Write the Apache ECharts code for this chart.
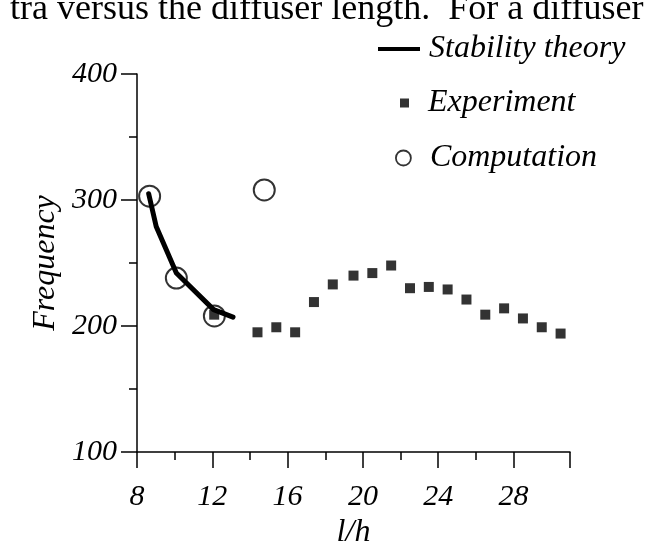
<!DOCTYPE html>
<html>
<head>
<meta charset="utf-8">
<script src="https://cdn.jsdelivr.net/npm/echarts@6/dist/echarts.min.js"></script>
<style>html,body{margin:0;padding:0;background:#fff;}#c{width:645px;height:550px;}</style>
</head>
<body>
<div id="c"></div>
<script>
const stabilityX = [8.62, 9.02, 10.09, 12.07, 13.1];
const stabilityY = [305, 279, 242, 213, 207];
const expX = [12.1, 14.4, 15.4, 16.4, 17.4, 18.4, 19.5, 20.5, 21.5, 22.5, 23.5, 24.5, 25.5, 26.5, 27.5, 28.5, 29.5, 30.5];
const expY = [209, 195, 199, 195, 219, 233, 240, 242, 248, 230, 231, 229, 221, 209, 214, 206, 199, 194];
const compX = [8.67, 10.09, 12.11, 14.76];
const compY = [303, 238, 208, 308];
const xMajorLabels = [8, 12, 16, 20, 24, 28];
const xMajorTicks = [8, 12, 16, 20, 24, 28, 31];
const xMinorTicks = [10, 14, 18, 22, 26];
const seriesNames = ['Stability theory', 'Experiment', 'Computation'];
const topText = 'tra versus the diffuser length.  For a diffuser';

const zip = (a, b) => a.map((v, i) => [v, b[i]]);
const FONT = 'Liberation Serif';
const lblStyle = {fontFamily: FONT, fontStyle: 'italic', fontSize: 30, color: '#000'};
const legText = {fontFamily: FONT, fontStyle: 'italic', fontSize: 32, color: '#000'};

const chart = echarts.init(document.getElementById('c'), null, {renderer: 'canvas'});
chart.setOption({
  animation: false,
  backgroundColor: '#fff',
  grid: {left: 137, top: 74, right: 75, bottom: 98, containLabel: false, outerBoundsMode: 'none'},
  graphic: [{
    type: 'text', x: 10, y: -8,
    style: {text: topText, font: '36px "Liberation Serif"', fill: '#000', verticalAlign: 'top'}
  }],
  legend: [
    {data: [{name: seriesNames[0], icon: 'rect'}], left: 378, top: 33, padding: 0, itemWidth: 42, itemHeight: 4, itemGap: 0,
     textStyle: Object.assign({padding: [0, 0, 0, 4]}, legText), selectedMode: false},
    {data: [{name: seriesNames[1], icon: 'rect'}], left: 400, top: 87, padding: 0, itemWidth: 9, itemHeight: 9,
     textStyle: Object.assign({padding: [0, 0, 0, 14]}, legText), selectedMode: false},
    {data: [{name: seriesNames[2], icon: 'circle', itemStyle: {color: 'rgba(0,0,0,0)', borderColor: '#000', borderWidth: 1.8}}],
     left: 395, top: 142, padding: 0, itemWidth: 15, itemHeight: 15,
     textStyle: Object.assign({padding: [0, 0, 0, 14]}, legText), selectedMode: false}
  ],
  xAxis: [{
    type: 'value', min: 8, max: 31, interval: 4,
    name: 'l/h', nameLocation: 'middle', nameGap: 64,
    nameTextStyle: {fontFamily: FONT, fontStyle: 'italic', fontSize: 32, color: '#000'},
    axisLine: {onZero: false, lineStyle: {color: '#000', width: 1.5}},
    axisTick: {length: 16, lineStyle: {color: '#000', width: 1.5}, customValues: xMajorTicks},
    axisLabel: Object.assign({margin: 30, customValues: xMajorLabels}, lblStyle),
    splitLine: {show: false}
  }, {
    type: 'value', min: 8, max: 31, position: 'bottom',
    axisLine: {show: false},
    axisTick: {show: true, length: 8, lineStyle: {color: '#000', width: 1.5}, customValues: xMinorTicks},
    axisLabel: {show: false},
    splitLine: {show: false}
  }],
  yAxis: {
    type: 'value', min: 100, max: 400, interval: 100,
    name: 'Frequency', nameLocation: 'middle', nameGap: 74, nameRotate: 90,
    nameTextStyle: {fontFamily: FONT, fontStyle: 'italic', fontSize: 32, color: '#000'},
    axisLine: {onZero: false, lineStyle: {color: '#000', width: 1.5}},
    axisTick: {length: 16, lineStyle: {color: '#000', width: 1.5}},
    minorTick: {show: true, splitNumber: 2, length: 8, lineStyle: {color: '#000', width: 1.5}},
    axisLabel: Object.assign({margin: 20}, lblStyle),
    splitLine: {show: false}
  },
  series: [
    {name: seriesNames[2], type: 'scatter', data: zip(compX, compY), symbol: 'circle', symbolSize: 21, z: 2,
     itemStyle: {color: 'rgba(0,0,0,0)', borderColor: '#000', borderWidth: 2}},
    {name: seriesNames[1], type: 'scatter', data: zip(expX, expY), symbol: 'rect', symbolSize: 10, z: 3,
     itemStyle: {color: '#000'}},
    {name: seriesNames[0], type: 'line', data: zip(stabilityX, stabilityY), showSymbol: false, z: 4,
     lineStyle: {color: '#000', width: 5, cap: 'round', join: 'round'}, itemStyle: {color: '#000'}}
  ]
});
</script>
</body>
</html>
